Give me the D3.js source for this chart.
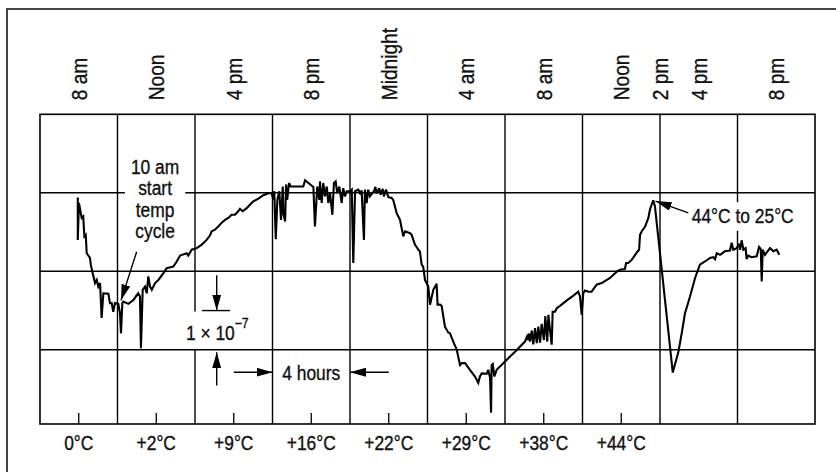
<!DOCTYPE html>
<html><head><meta charset="utf-8">
<script src="https://cdn.jsdelivr.net/npm/d3@7"></script>
<style>
body{margin:0;background:#fff;}
svg{display:block;}
text{font-family:'Liberation Sans',Arial,sans-serif;fill:#111;stroke:#111;stroke-width:0.35px;}
</style></head><body>
<svg id="chart" width="836" height="472"></svg>
<script>
// hours since 6 am of day 1
const hours = [1.95,1.95,2.01,2.15,2.23,2.29,2.36,2.41,2.58,2.62,
2.72,2.84,2.93,3.01,3.10,3.18,3.27,3.53,3.61,3.70,
3.78,3.87,4.04,4.13,4.18,4.25,4.30,4.56,4.82,5.07,
5.16,5.21,5.30,5.42,5.51,5.59,5.68,5.77,5.94,6.11,
6.36,6.54,6.88,7.06,7.23,7.57,7.65,7.83,8.09,8.35,
8.60,8.77,8.86,9.03,9.20,9.38,9.55,9.72,9.89,10.06,
10.23,10.32,10.46,10.67,10.84,11.01,11.27,11.53,11.78,11.96,
12.04,12.09,12.17,12.25,12.35,12.44,12.53,12.56,12.65,12.70,
12.76,12.85,12.94,13.59,13.68,14.11,14.19,14.31,14.42,14.45,
14.54,14.62,14.71,14.80,14.88,14.97,15.09,15.17,15.26,15.34,
15.45,15.57,15.65,15.74,15.83,16.00,16.09,16.17,16.26,16.43,
16.52,16.60,16.72,16.77,16.86,16.94,17.03,17.15,17.24,17.31,
17.38,17.51,17.58,17.69,17.75,17.86,17.98,18.15,18.23,18.32,
18.41,18.58,18.75,18.84,19.10,19.18,19.27,19.35,19.53,19.61,
19.70,19.78,19.87,20.04,20.13,20.30,20.47,20.52,20.65,20.73,
20.90,21.07,21.16,21.33,21.51,21.68,21.77,21.94,22.19,22.45,
22.62,22.71,22.80,23.06,23.14,23.23,23.28,23.31,23.37,23.45,
23.57,23.91,24.26,24.52,24.77,25.03,25.12,25.17,25.22,25.29,
25.38,25.46,25.55,25.64,25.72,25.81,25.89,26.01,26.08,26.18,
26.24,26.32,26.41,26.46,26.58,26.67,26.84,27.19,27.53,27.78,
27.87,27.96,28.04,28.13,28.30,28.47,28.73,28.99,29.42,29.77,
29.94,30.19,30.25,30.36,30.54,30.80,30.92,30.97,31.06,31.23,
31.40,31.48,31.60,31.65,31.74,32.66,32.95,33.12,33.29,33.55,
33.81,34.06,34.32,34.58,34.75,34.84,34.93,35.10,35.35,35.61,
35.70,35.78,35.96,36.08,36.13,36.22,36.30,36.42,36.47,36.56,
36.73,36.99,37.11,37.20,37.25,37.30,37.42,37.51,37.68,37.85,
38.02,38.16];
// strain, units of 1e-7
const strain = [5.88,4.80,5.74,5.36,5.40,4.89,4.93,4.46,4.34,4.17,
3.95,3.70,3.78,3.61,3.70,2.81,3.44,3.43,3.19,3.19,
2.97,3.19,3.17,2.93,2.42,3.19,3.23,3.17,3.27,3.44,
3.36,2.04,3.53,3.61,3.44,3.87,3.61,3.53,3.70,3.78,
3.95,4.08,4.12,4.25,4.40,4.46,4.40,4.55,4.59,4.68,
4.80,4.91,5.02,5.06,5.14,5.24,5.31,5.36,5.44,5.44,
5.53,5.59,5.53,5.61,5.70,5.78,5.85,5.94,5.99,5.99,
5.82,6.04,4.82,5.82,6.04,5.31,6.16,5.48,5.27,6.21,
5.82,6.25,6.16,6.16,6.32,6.15,5.14,6.16,5.82,6.29,
5.74,6.25,5.91,6.16,5.74,5.99,5.44,6.25,6.29,5.99,
6.16,5.74,6.12,5.91,6.04,6.04,6.08,4.21,6.04,6.08,
5.99,6.06,4.80,6.08,5.74,6.08,5.91,5.99,6.04,6.15,
5.99,6.12,5.95,6.10,5.91,6.08,5.89,5.87,5.82,5.65,
5.48,5.31,4.89,5.02,4.97,4.93,4.80,4.68,4.55,4.50,
4.17,4.11,3.78,3.61,3.15,3.53,3.68,3.15,3.15,3.12,
2.59,2.44,2.42,2.21,2.00,1.61,1.66,1.66,1.49,1.32,
1.16,1.33,1.40,1.39,1.49,1.28,0.40,1.61,1.64,1.32,
1.49,1.66,1.83,1.95,2.08,2.21,2.32,2.25,2.42,2.21,
2.49,2.14,2.55,2.17,2.59,2.18,2.66,2.25,2.86,2.21,
2.89,2.51,2.13,2.97,2.97,3.06,3.12,3.26,3.38,3.48,
3.36,2.89,3.44,3.51,3.48,3.48,3.66,3.70,3.83,3.99,
4.04,4.06,4.21,4.21,4.29,4.48,4.55,4.93,5.02,5.14,
5.36,5.57,5.74,5.81,5.65,1.42,1.95,2.42,2.93,3.36,
3.83,4.17,4.25,4.34,4.36,4.31,4.46,4.42,4.51,4.53,
4.73,4.55,4.59,4.70,4.55,4.79,4.55,4.59,4.31,4.40,
4.36,4.38,4.62,4.57,3.74,4.55,4.42,4.48,4.59,4.51,
4.55,4.42];

const timeTickHours = [2,6,10,14,18,22,26,30,32,34,38];
const timeTickLabels = ["8 am","Noon","4 pm","8 pm","Midnight","4 am","8 am","Noon","2 pm","4 pm","8 pm"];
const tempTickHours = [2,6,10,14,18,22,26,30];
const tempTickLabels = ["0°C","+2°C","+9°C","+16°C","+22°C","+29°C","+38°C","+44°C"];
const gridHours = [4,8,12,16,20,24,28,32,36];
const gridStrain = [2,4,6];
const cycleLines = ["10 am","start","temp","cycle"];
const peakLabel = "44°C to 25°C";
const hoursLabel = "4 hours";

const NARROW = 0.87;
const svg = d3.select("#chart");
const x = d3.scaleLinear().domain([0,40]).range([40,815]);
const y = d3.scaleLinear().domain([0.11,8]).range([424,114.3]);
const [pL,pR] = x.range(), [pB,pT] = y.range();

// outer border
svg.append("rect").attr("x",7).attr("y",9).attr("width",900).attr("height",600)
  .attr("fill","none").attr("stroke","#444").attr("stroke-width",2);

const defs = svg.append("defs");
defs.append("marker").attr("id","arr").attr("viewBox","0 0 16 9").attr("refX",16).attr("refY",4.5)
  .attr("markerWidth",16).attr("markerHeight",9).attr("markerUnits","userSpaceOnUse").attr("orient","auto")
  .append("path").attr("d","M0,0L16,4.5L0,9Z").attr("fill","#000");

// grid
svg.append("g").selectAll("line").data(gridHours).join("line")
  .attr("x1",d=>x(d)).attr("x2",d=>x(d)).attr("y1",pT).attr("y2",pB)
  .attr("stroke","#000").attr("stroke-width",1.4);
svg.append("g").selectAll("line").data(gridStrain).join("line")
  .attr("x1",pL).attr("x2",pR).attr("y1",d=>y(d)).attr("y2",d=>y(d))
  .attr("stroke","#000").attr("stroke-width",1.4);
// bottom ticks
svg.append("g").selectAll("line").data(tempTickHours).join("line")
  .attr("x1",d=>x(d)).attr("x2",d=>x(d)).attr("y1",pB-11).attr("y2",pB)
  .attr("stroke","#000").attr("stroke-width",1.3);
// frame
svg.append("rect").attr("x",pL).attr("y",pT).attr("width",pR-pL).attr("height",pB-pT)
  .attr("fill","none").attr("stroke","#000").attr("stroke-width",1.6);

// narrow text helper: group positioned at (px,py), text compressed horizontally
function ntext(px, py, size, anchor, rot){
  const g = svg.append("g").attr("transform",`translate(${px},${py})${rot?` rotate(${rot})`:""} scale(${NARROW},1)`);
  const t = g.append("text").attr("font-size",size).attr("text-anchor",anchor||"start");
  return {g,t};
}
function bg(o, padX, padY){
  const b = o.t.node().getBBox();
  o.g.insert("rect","text").attr("x",b.x-padX/NARROW).attr("y",b.y-padY)
    .attr("width",b.width+2*padX/NARROW).attr("height",b.height+2*padY).attr("fill","#fff");
}
function arrow(h1,v1,h2,v2){
  svg.append("line").attr("x1",x(h1)).attr("y1",y(v1)).attr("x2",x(h2)).attr("y2",y(v2))
    .attr("stroke","#000").attr("stroke-width",1.4).attr("marker-end","url(#arr)");
}

// top time labels
timeTickHours.forEach((h,i)=>{
  const o = ntext(x(h), pT-14, 22, "start", -90);
  o.t.attr("dy","0.36em").text(timeTickLabels[i]);
});
// bottom temperature labels
tempTickHours.forEach((h,i)=>{
  const o = ntext(x(h), pB+26, 20, "middle");
  o.t.text(tempTickLabels[i]);
});

// 10 am note
const cyc = ntext(x(5.94), y(6.48), 20, "middle");
cyc.t.selectAll("tspan").data(cycleLines).join("tspan")
  .attr("x",0).attr("y",(d,i)=>i*21.5).text(d=>d);
bg(cyc,6,2);
arrow(4.99,4.50,4.18,3.26);

// peak note
const pk = ntext(x(33.64), y(5.22), 20, "start");
pk.t.text(peakLabel);
bg(pk,3,3);
arrow(33.46,5.49,31.77,5.79);

// scale bar 1e-7
const sb = ntext(x(9.15), y(2.25), 20, "middle");
sb.t.append("tspan").text("1 × 10");
sb.t.append("tspan").attr("font-size",14).attr("dy","-0.85em").text("−7");
const sbb = sb.t.node().getBBox();
sb.g.insert("rect","text").attr("x",sbb.x-3/NARROW).attr("y",y(3)+1-y(2.25)).attr("width",sbb.width+6/NARROW)
  .attr("height",y(2)-y(3)-2).attr("fill","#fff");
svg.append("line").attr("x1",x(8.36)).attr("x2",x(9.81)).attr("y1",y(3)).attr("y2",y(3))
  .attr("stroke","#000").attr("stroke-width",1.4);
arrow(9.12,3.90,9.12,3.0);
arrow(9.12,1.09,9.12,1.94);

// 4 hours
const hl = ntext(x(14), y(1.23), 20, "middle");
hl.t.text(hoursLabel);
arrow(10,1.43,12,1.43);
arrow(18,1.43,16,1.43);

// data line
const line = d3.line().x(i=>x(hours[i])).y(i=>y(strain[i]));
svg.append("path").attr("d",line(d3.range(hours.length)))
  .attr("fill","none").attr("stroke","#000").attr("stroke-width",2.1).attr("stroke-linejoin","miter").attr("stroke-miterlimit",3);
</script></body></html>
